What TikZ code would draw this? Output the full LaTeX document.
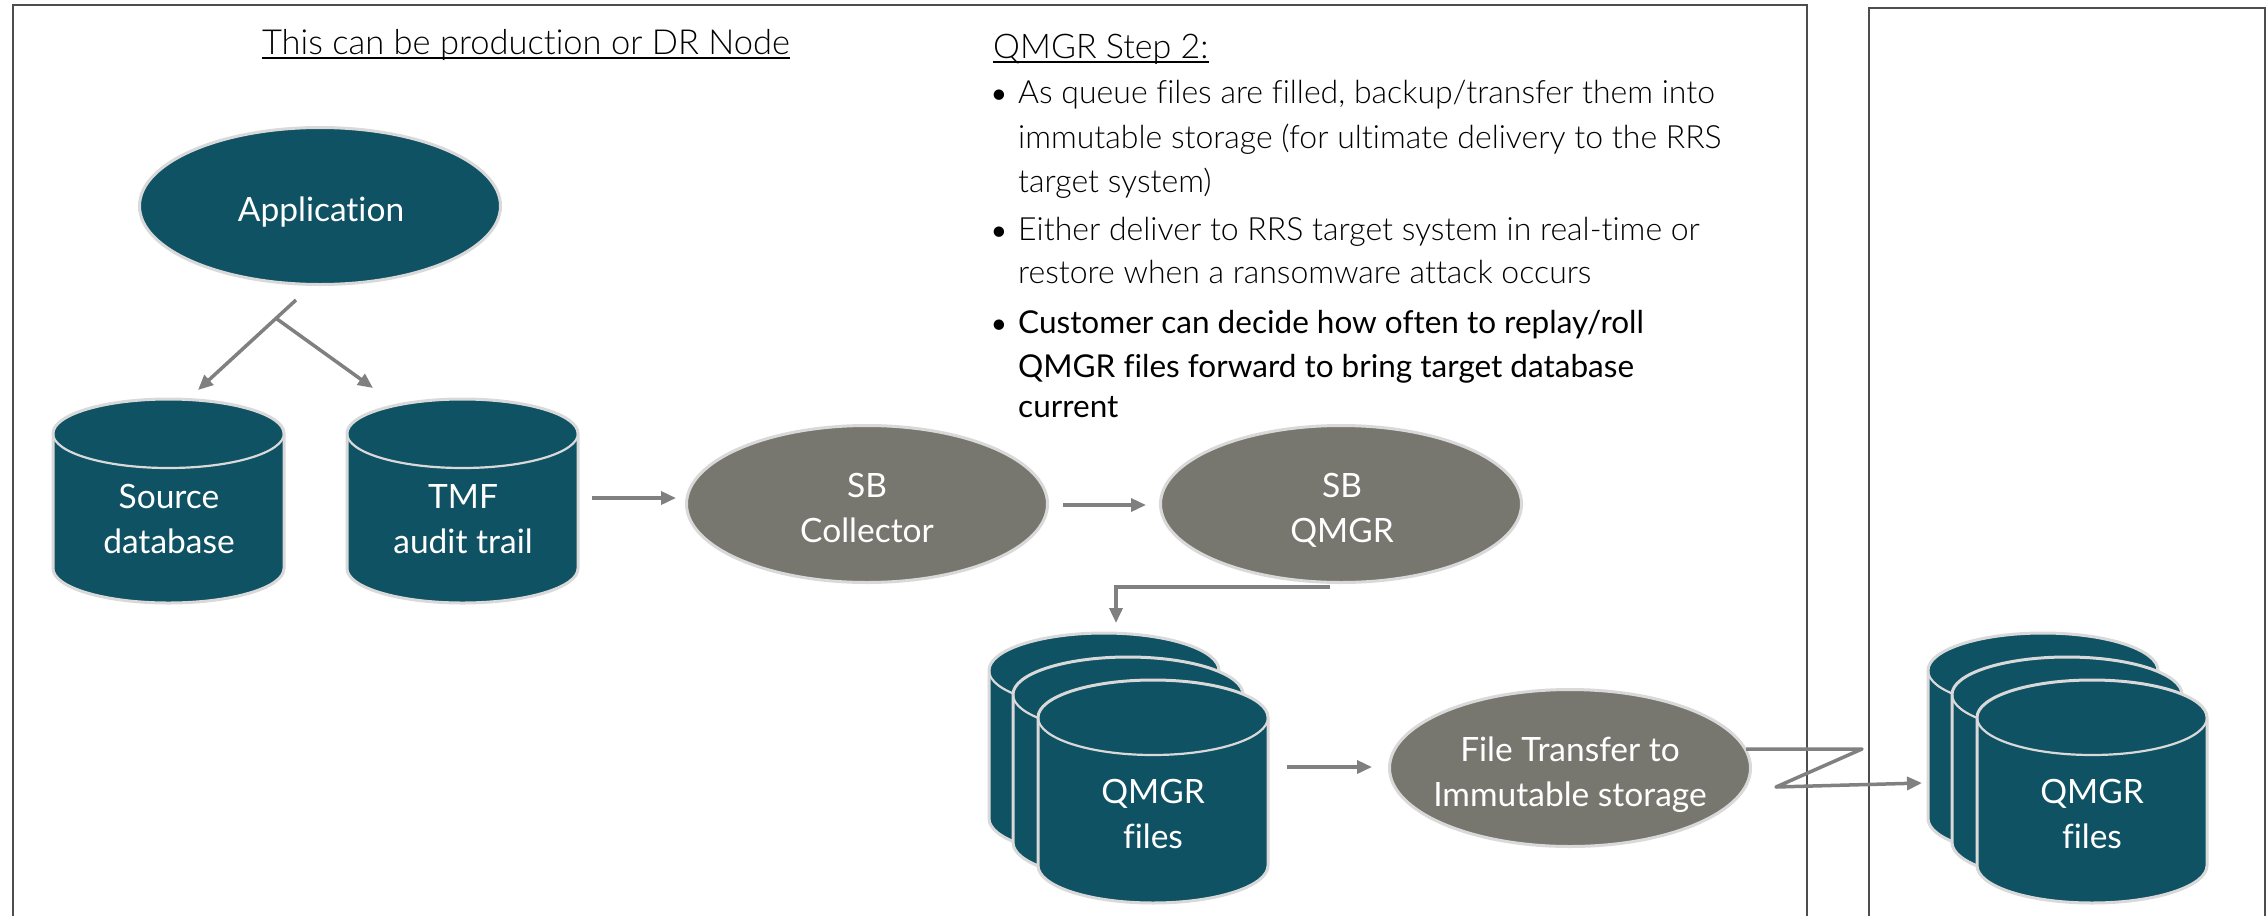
\documentclass[tikz,border=0pt]{standalone}
\usepackage{fontspec}
\setmainfont{Lato}[RawFeature={-liga}]
\IfFontExistsTF{Lato Light}{\newfontfamily\lightfont{Lato Light}[RawFeature={-liga}]}{\newfontfamily\lightfont{Lato}[RawFeature={-liga}]}
\usetikzlibrary{arrows.meta,shapes.geometric}
\definecolor{dbteal}{HTML}{0F5264}
\definecolor{procgray}{HTML}{78776F}
\definecolor{rimgray}{HTML}{D9D9D9}
\definecolor{arrowgray}{HTML}{808080}
\definecolor{framegray}{HTML}{4D4D4D}
\newcommand\dbcyl[5]{%
  \pgfmathsetmacro\dbL{#1-#3/2}%
  \pgfmathsetmacro\dbR{#1+#3/2}%
  \pgfmathsetmacro\dbT{-(#2+#5)}%
  \pgfmathsetmacro\dbB{-(#2+#4-#5)}%
  \pgfmathsetmacro\dbRx{#3/2}%
  \filldraw[cylbody] (\dbL,\dbT) -- (\dbL,\dbB)
    arc[start angle=180,end angle=360,x radius=\dbRx,y radius=#5]
    -- (\dbR,\dbT)
    arc[start angle=0,end angle=180,x radius=\dbRx,y radius=#5] -- cycle;
  \draw[cylrim] (\dbL,\dbT) arc[start angle=180,end angle=360,x radius=\dbRx,y radius=#5];
}
\tikzset{
  cylbody/.style={fill=dbteal, draw=rimgray, line width=3pt},
  cylrim/.style={draw=rimgray, line width=2.2pt},
  procell/.style={ellipse, fill=procgray, draw=rimgray, line width=3pt, minimum width=361pt, minimum height=157pt, inner sep=0pt},
  appell/.style={procell, fill=dbteal},
  lbl/.style={text=white, font=\fontsize{33.5}{45}\selectfont, align=center, inner sep=0pt, anchor=base},
  ltxt/.style={font=\lightfont\fontsize{32}{44}\selectfont, inner sep=0pt, anchor=base west, text=black},
  rtxt/.style={font=\fontsize{31.5}{44}\selectfont, inner sep=0pt, anchor=base west, text=black},
  bul/.style={font=\fontsize{28}{44}\selectfont, inner sep=0pt, anchor=base, text=black},
  conn/.style={draw=arrowgray, line width=3.5pt, -{Triangle[length=15pt,width=13pt]}},
  frame/.style={draw=framegray, line width=1.3pt}
}
\begin{document}
\begin{tikzpicture}[x=1pt,y=1pt]
\useasboundingbox[fill=white] (0,0) rectangle (2267,-916);
% frames
\draw[frame] (13,-916) -- (13,-5) -- (1807,-5) -- (1807,-916);
\draw[frame] (1869,-916) -- (1869,-8) -- (2265,-8) -- (2265,-916);
% title
\node[font=\lightfont\fontsize{34.5}{44}\selectfont, inner sep=0pt, anchor=base] (title) at (526,-54) {This can be production or DR Node};
\draw[line width=1.8pt] ([yshift=-4pt]title.base west) -- ([yshift=-4pt]title.base east);
% heading and bullets
\node[ltxt, font=\lightfont\fontsize{34}{44}\selectfont] (head) at (993,-58) {QMGR Step 2:};
\draw[line width=1.8pt] ([yshift=-4pt]head.base west) -- ([yshift=-4pt]head.base east);
\node[bul] (d1) at (999,-103) {•};
\node[ltxt] (b1a) at (1018,-103) {As queue files are filled, backup/transfer them into};
\node[ltxt] (b1b) at (1018,-148) {immutable storage (for ultimate delivery to the RRS};
\node[ltxt] (b1c) at (1018,-192) {target system)};
\node[bul] (d2) at (999,-240) {•};
\node[ltxt] (b2a) at (1018,-240) {Either deliver to RRS target system in real-time or};
\node[ltxt] (b2b) at (1018,-283) {restore when a ransomware attack occurs};
\node[bul] (d3) at (999,-333) {•};
\node[rtxt] (b3a) at (1018,-333) {Customer can decide how often to replay/roll};
\node[rtxt] (b3b) at (1018,-377) {QMGR files forward to bring target database};
\node[rtxt] (b3c) at (1018,-417) {current};
% application
\node[appell] (app) at (320,-206) {};
\node[lbl] (applbl) at (321,-221) {Application};
% cylinders
\dbcyl{168.5}{399}{231}{204}{34.5}
\node[lbl] (src) at (169,-553) {Source\\database};
\dbcyl{462.5}{399}{231}{204}{34.5}
\node[lbl] (tmf) at (463,-553) {TMF\\audit trail};
% process ellipses
\node[procell] (coll) at (867,-504) {};
\node[lbl] (colllbl) at (867,-542) {SB\\Collector};
\node[procell] (qmgr) at (1341,-504) {};
\node[lbl] (qmgrlbl) at (1342,-542) {SB\\QMGR};
\node[procell] (ft) at (1570,-768) {};
\node[lbl] (ftlbl) at (1570,-806) {File Transfer to\\Immutable storage};
% QMGR stacks
\dbcyl{1104}{633}{230}{223}{37.5}
\dbcyl{1128}{657}{230}{223}{37.5}
\dbcyl{1153}{680}{230}{223}{37.5}
\node[lbl] (qf1) at (1153,-848) {QMGR\\files};
\dbcyl{2043}{633}{230}{223}{37.5}
\dbcyl{2067}{657}{230}{223}{37.5}
\dbcyl{2092}{680}{230}{223}{37.5}
\node[lbl] (qf2) at (2092,-848) {QMGR\\files};
% connector coordinates
\coordinate (forkTop) at (296,-300);
\coordinate (forkMid) at (277,-319);
\coordinate (tipSrc) at (198,-390);
\coordinate (tipTmf) at (373,-388);
\coordinate (tmfOut) at (592,-498);
\coordinate (collIn) at (676,-498);
\coordinate (collOut) at (1063,-505);
\coordinate (qmgrIn) at (1146,-505);
\coordinate (qmgrOut) at (1330,-587);
\coordinate (qfIn) at (1116,-623);
\coordinate (qfOut) at (1287,-767);
\coordinate (ftIn) at (1372,-767);
\coordinate (ftOut) at (1746,-749);
\coordinate (zA) at (1862,-749);
\coordinate (zB) at (1776,-787);
\coordinate (qf2In) at (1922,-783);
% connectors
\draw[conn] (forkTop) -- (tipSrc);
\draw[conn] (forkMid) -- (tipTmf);
\draw[conn] (tmfOut) -- (collIn);
\draw[conn] (collOut) -- (qmgrIn);
\draw[conn] (qmgrOut) -| (qfIn);
\draw[conn] (qfOut) -- (ftIn);
\draw[conn, line join=round] (ftOut) -- (zA) -- (zB) -- (qf2In);
\end{tikzpicture}
\end{document}
